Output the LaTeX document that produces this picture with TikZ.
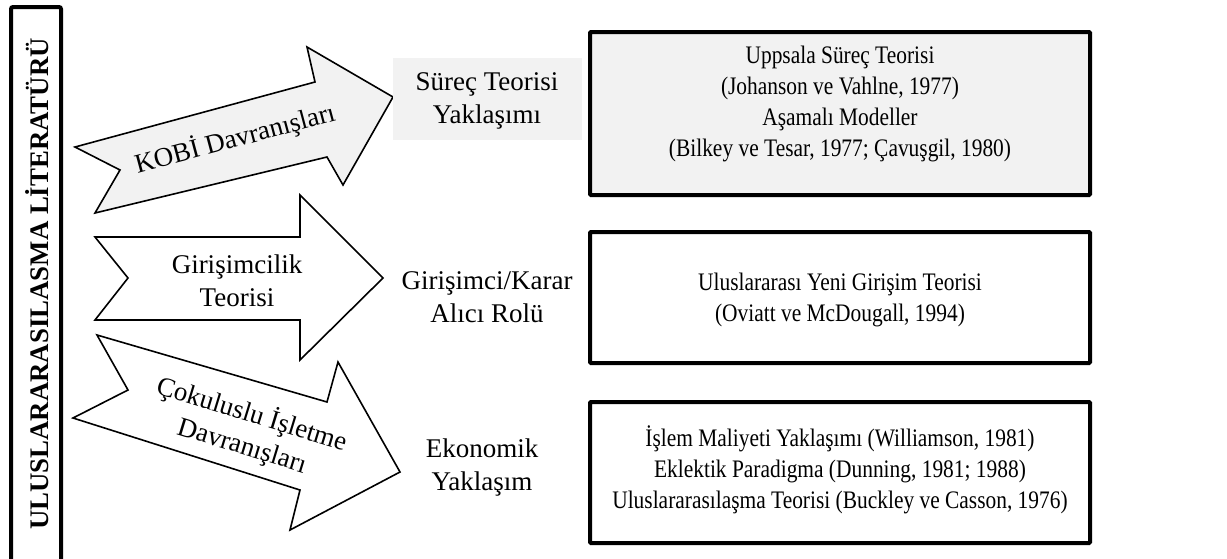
\documentclass[tikz,border=0pt]{standalone}
\usepackage{fontspec}
\setmainfont{Liberation Serif}
\newfontfamily\narrowserif{Liberation Serif}[FakeStretch=0.85]
\definecolor{lightfill}{HTML}{F2F2F2}
\begin{document}
\begin{tikzpicture}[x=1pt,y=-1pt,
  txt/.style={font=\narrowserif\fontsize{25.2}{31}\selectfont, align=center, inner sep=0pt},
  bigtxt/.style={font=\fontsize{27}{33}\selectfont, align=center, inner sep=0pt},
  bigbox/.style={draw=black, line width=4pt, rounded corners=1pt},
  arrowshape/.style={draw=black, line width=1.6pt, line join=miter}]
\useasboundingbox (0,0) rectangle (1227,558);

% left vertical title box
\draw[line width=4pt, rounded corners=2pt] (11,560) -- (11,7) -- (61,7) -- (61,560);
\node[rotate=90, font=\fontsize{26.8}{30}\selectfont\bfseries, inner sep=0pt] (title) at (37,284) {ULUSLARARASILASMA LİTERATÜRÜ};

% arrow 1 (KOBİ)
\draw[arrowshape, fill=lightfill] (75,147) -- (120,170) -- (95,213) -- (327,157) -- (343,185) -- (393,97) -- (307,47) -- (315,82) -- cycle;
\node[bigtxt, rotate=15] (kobi) at (235,139) {KOBİ Davranışları};

% arrow 2 (Girişimcilik)
\draw[arrowshape, fill=white] (95,237) -- (300,237) -- (300,195) -- (383,278) -- (300,360) -- (300,320) -- (95,320) -- (128,278) -- cycle;
\node[bigtxt] (gir) at (237,281) {Girişimcilik\\Teorisi};

% arrow 3 (Çokuluslu)
\draw[arrowshape, fill=white] (97,335) -- (327,402) -- (338,362) -- (400,472) -- (290,530) -- (300,490) -- (73,418) -- (128,390) -- cycle;
\node[bigtxt, rotate=-17] (cok) at (247,430) {Çokuluslu İşletme\\Davranışları};

% middle labels
\node[fill=lightfill, minimum width=189pt, minimum height=82pt, inner sep=0pt] (surecbg) at (487.5,99) {};
\node[bigtxt] (surec) at (487,101) {Süreç Teorisi\\Yaklaşımı};
\node[bigtxt] (karar) at (487,297) {Girişimci/Karar\\Alıcı Rolü};
\node[bigtxt] (eko) at (482,467) {Ekonomik\\Yaklaşım};

% right boxes
\draw[bigbox, fill=lightfill] (590,32) rectangle (1090,195);
\node[txt] (b1) at (840,104) {Uppsala Süreç Teorisi\\(Johanson ve Vahlne, 1977)\\Aşamalı Modeller\\(Bilkey ve Tesar, 1977; Çavuşgil, 1980)};

\draw[bigbox, fill=white] (590,232) rectangle (1090,363);
\node[txt] (b2) at (840,300) {Uluslararası Yeni Girişim Teorisi\\(Oviatt ve McDougall, 1994)};

\draw[bigbox, fill=white] (590,402) rectangle (1090,543);
\node[txt] (b3) at (840,470) {İşlem Maliyeti Yaklaşımı (Williamson, 1981)\\Eklektik Paradigma (Dunning, 1981; 1988)\\Uluslararasılaşma Teorisi (Buckley ve Casson, 1976)};
\end{tikzpicture}
\end{document}
